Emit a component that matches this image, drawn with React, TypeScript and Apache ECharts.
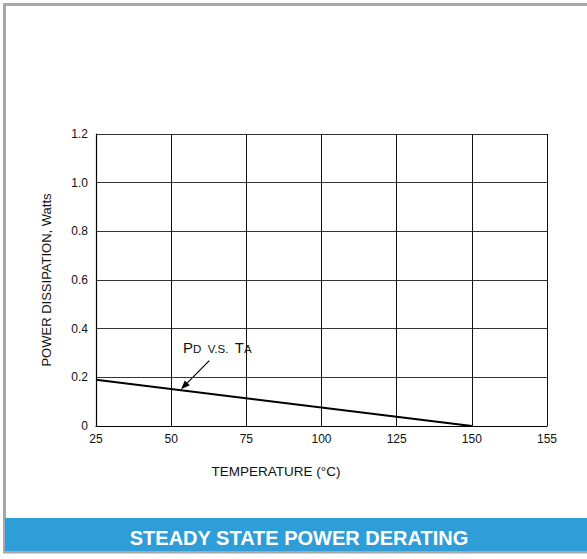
import React, { useEffect, useRef } from "react";
import * as echarts from "echarts";

const temperatureTicks = ["25", "50", "75", "100", "125", "150", "155"];
const deratingTemps = ["25", "150"];
const deratingWatts = [0.19, 0];
const yMin = 0;
const yMax = 1.2;
const yStep = 0.2;

const FONT = "'Liberation Sans', Arial, sans-serif";

export default function App() {
  const ref = useRef<HTMLDivElement>(null);
  useEffect(() => {
    if (!ref.current) return;
    document.body.style.margin = "0";
    const chart = echarts.init(ref.current, null, { renderer: "svg" });
    const ax = 181, ay = 389.3, tx = 209.3, ty = 360.7;
    const dx = tx - ax, dy = ty - ay;
    const len = Math.sqrt(dx * dx + dy * dy);
    const ux = dx / len, uy = dy / len;
    const bx = ax + ux * 9, by = ay + uy * 9;
    const nx = -uy, ny = ux;
    chart.setOption({
      animation: false,
      backgroundColor: "#ffffff",
      grid: { left: 96, top: 134, right: 40, bottom: 133, containLabel: false },
      xAxis: {
        type: "category",
        data: temperatureTicks,
        boundaryGap: false,
        axisLine: { show: true, lineStyle: { color: "#000", width: 1.2 } },
        axisTick: { show: false },
        axisLabel: { color: "#111", fontFamily: FONT, fontSize: 12, margin: 7 },
        splitLine: { show: true, lineStyle: { color: "#111", width: 1 } },
      },
      yAxis: {
        type: "value",
        min: yMin,
        max: yMax,
        interval: yStep,
        axisLine: { show: true, lineStyle: { color: "#000", width: 1.2 } },
        axisTick: { show: false },
        axisLabel: {
          color: "#111",
          fontFamily: FONT,
          fontSize: 12,
          margin: 8,
          formatter: (v: number) => (v === 0 ? "0" : v.toFixed(1)),
        },
        splitLine: { show: true, lineStyle: { color: "#333", width: 1 } },
        name: "POWER DISSIPATION, Watts",
        nameLocation: "middle",
        nameRotate: 90,
        nameGap: 43,
        nameTextStyle: { color: "#111", fontFamily: FONT, fontSize: 13 },
      },
      series: [
        {
          type: "line",
          data: deratingTemps.map((t, i) => [t, deratingWatts[i]]),
          symbol: "none",
          lineStyle: { color: "#000", width: 2 },
          z: 5,
        },
      ],
      graphic: [
        {
          type: "rect",
          z: 0,
          shape: { x: 4.5, y: 4.5, width: 600, height: 547.5 },
          style: { fill: "none", stroke: "#a8a8a8", lineWidth: 3 },
        },
        {
          type: "rect",
          z: 1,
          shape: { x: 5, y: 518, width: 590, height: 33 },
          style: { fill: "#2f9dd8" },
        },
        {
          type: "text",
          z: 2,
          x: 299,
          y: 538,
          style: {
            text: "STEADY STATE POWER DERATING",
            fill: "#ffffff",
            font: `bold 20px ${FONT}`,
            textAlign: "center",
            textVerticalAlign: "middle",
          },
        },
        {
          type: "text",
          x: 276,
          y: 471,
          style: {
            text: "TEMPERATURE (°C)",
            fill: "#111",
            font: `13.5px ${FONT}`,
            textAlign: "center",
            textVerticalAlign: "middle",
          },
        },
        {
          type: "text",
          x: 183,
          y: 355,
          style: {
            text: "{b|P}{s|D  V.S.  }{b|T}{s|A}",
            textVerticalAlign: "bottom",
            rich: {
              b: { fontSize: 15, fontFamily: FONT, fill: "#111", lineHeight: 15, verticalAlign: "bottom" },
              s: { fontSize: 11.5, fontFamily: FONT, fill: "#111", lineHeight: 11.5, verticalAlign: "bottom" },
            },
          },
        },
        {
          type: "line",
          shape: { x1: tx, y1: ty, x2: bx, y2: by },
          style: { stroke: "#000", lineWidth: 1.2 },
        },
        {
          type: "polygon",
          shape: {
            points: [
              [ax, ay],
              [bx + nx * 3.5, by + ny * 3.5],
              [bx - nx * 3.5, by - ny * 3.5],
            ],
          },
          style: { fill: "#000" },
        },
      ],
    });
    return () => chart.dispose();
  }, []);
  return (
    <div
      ref={ref}
      style={{ position: "fixed", left: 0, top: 0, width: 587, height: 559 }}
    />
  );
}
